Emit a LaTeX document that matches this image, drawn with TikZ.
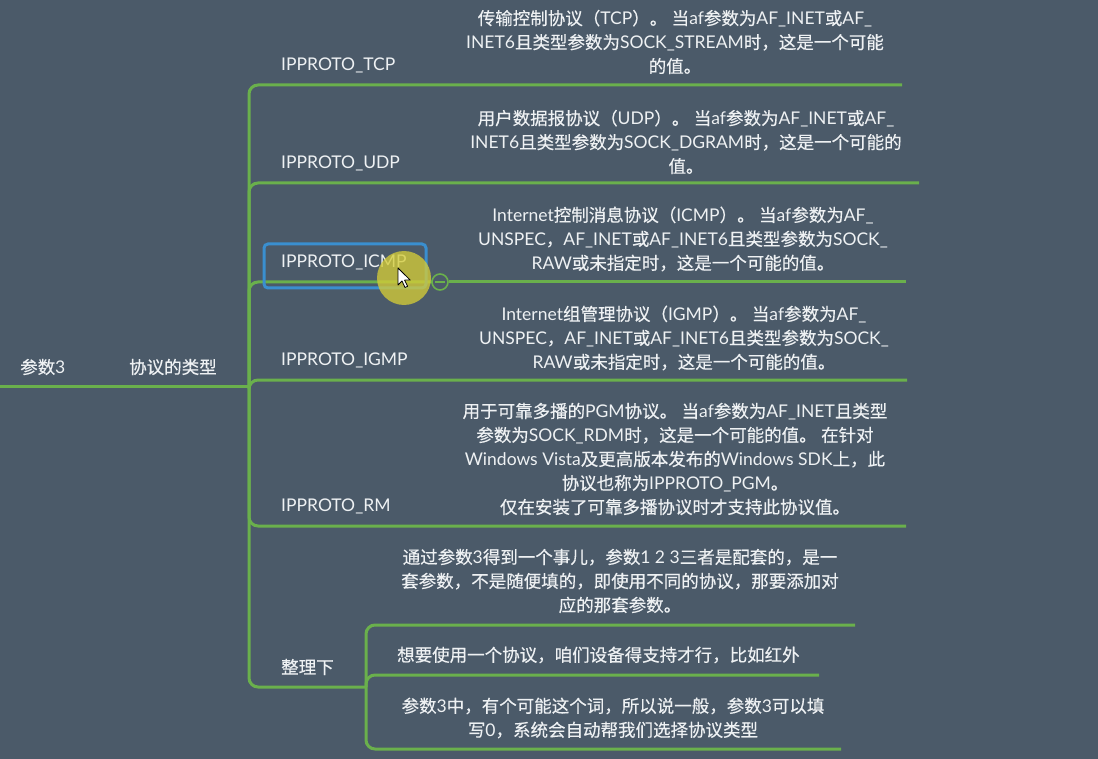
\documentclass[tikz,border=0pt]{standalone}
\usepackage{fontspec}
\setmainfont{Lato}
\newfontfamily\cjkf{Noto Sans CJK SC}[FakeBold=0.4]
\XeTeXinterchartokenstate=1
\newXeTeXintercharclass\CJKcls
\newcount\cjkcnt
\def\setcjkrange#1#2{\cjkcnt=#1\relax\loop\XeTeXcharclass\cjkcnt=\CJKcls\relax\ifnum\cjkcnt<#2\relax\advance\cjkcnt by 1\relax\repeat}
\setcjkrange{"3000}{"303F}
\setcjkrange{"4E00}{"9FFF}
\setcjkrange{"FF00}{"FFEF}
\XeTeXinterchartoks 0 \CJKcls = {\cjkf}
\XeTeXinterchartoks 4095 \CJKcls = {\cjkf}
\XeTeXinterchartoks \CJKcls 0 = {\rmfamily}
\XeTeXinterchartoks \CJKcls 4095 = {\rmfamily}
\newcommand\mmfs{\fontsize{17.5}{24}\selectfont}
\usetikzlibrary{calc}
\definecolor{bg}{HTML}{4B5A69}
\definecolor{lnk}{HTML}{6AB04C}
\definecolor{txt}{HTML}{EEF1F3}
\definecolor{selc}{HTML}{3A8FCF}
\definecolor{hlc}{HTML}{D4CC38}
\tikzset{
  conn/.style={draw=lnk, line width=3pt, rounded corners=9pt},
  lbl/.style={anchor=west, inner sep=0pt, text=txt, font=\mmfs},
  desc/.style={align=center, inner sep=0pt, text=txt, font=\mmfs},
  foldbtn/.style={circle, draw=lnk, line width=1.6pt, minimum size=16pt, inner sep=0pt},
}
\begin{document}
\begin{tikzpicture}[x=1pt,y=-1pt]
\fill[bg] (0,0) rectangle (1098,759);
\useasboundingbox (0,0) rectangle (1098,759);
% hubs and ends
\coordinate (root0) at (0,386);
\coordinate (hub) at (249,386);
\coordinate (tcpE) at (902,85);
\coordinate (udpE) at (919,183);
\coordinate (icmpL) at (432,282);
\coordinate (icmpE) at (906,282);
\coordinate (igmpE) at (907,380);
\coordinate (rmE) at (906,526);
\coordinate (sumL) at (366,687);
\coordinate (s1E) at (855,625);
\coordinate (s2E) at (819,675);
\coordinate (s3E) at (841,749);
% connectors
\draw[conn] (root0) -- (hub);
\draw[conn] (hub) |- (tcpE);
\draw[conn] (hub) |- (udpE);
\draw[conn] (hub) |- (icmpL);
\draw[conn] (hub) |- (igmpE);
\draw[conn] (hub) |- (rmE);
\draw[conn] (hub) |- (sumL);
\draw[conn] (sumL) |- (s1E);
\draw[conn] (sumL) |- (s2E);
\draw[conn] (sumL) |- (s3E);
\node[foldbtn] (fold) at (440,282) {};
\draw[lnk, line width=1.4pt] ($(fold.center)+(-5,0)$) -- ($(fold.center)+(5,0)$);
\draw[conn] (fold.east) -- (icmpE);
% labels
\node[lbl] (p3) at (20,367) {参数3};
\node[lbl] (type) at (129,367) {协议的类型};
\node[lbl] (tcp) at (281,65) {IPPROTO\_TCP};
\node[lbl] (udp) at (281,163) {IPPROTO\_UDP};
\node[lbl] (icmp) at (281,262) {IPPROTO\_ICMP};
\node[lbl] (igmp) at (281,360) {IPPROTO\_IGMP};
\node[lbl] (rm) at (281,506) {IPPROTO\_RM};
\node[lbl] (sum) at (281,667) {整理下};
\node[desc] (tcpd) at (675,42) {传输控制协议（TCP）。 当af参数为AF\_INET或AF\_\\INET6且类型参数为SOCK\_STREAM时，这是一个可能\\的值。};
\node[desc] (udpd) at (686,142) {用户数据报协议（UDP）。 当af参数为AF\_INET或AF\_\\INET6且类型参数为SOCK\_DGRAM时，这是一个可能的\\值。};
\node[desc] (icmpd) at (683,239) {Internet控制消息协议（ICMP）。 当af参数为AF\_\\UNSPEC，AF\_INET或AF\_INET6且类型参数为SOCK\_\\RAW或未指定时，这是一个可能的值。};
\node[desc] (igmpd) at (684,338) {Internet组管理协议（IGMP）。 当af参数为AF\_\\UNSPEC，AF\_INET或AF\_INET6且类型参数为SOCK\_\\RAW或未指定时，这是一个可能的值。};
\node[desc] (rmd) at (675,459) {用于可靠多播的PGM协议。 当af参数为AF\_INET且类型\\参数为SOCK\_RDM时，这是一个可能的值。 在针对\\Windows Vista及更高版本发布的Windows SDK上，此\\协议也称为IPPROTO\_PGM。\\仅在安装了可靠多播协议时才支持此协议值。};
\node[desc] (s1) at (620,581) {通过参数3得到一个事儿，参数1 2 3三者是配套的，是一\\套参数，不是随便填的，即使用不同的协议，那要添加对\\应的那套参数。};
\node[lbl] (s2) at (397,655) {想要使用一个协议，咱们设备得支持才行，比如红外};
\node[desc] (s3) at (613,718) {参数3中，有个可能这个词，所以说一般，参数3可以填\\写0，系统会自动帮我们选择协议类型};
% selection highlight and pointer
\draw[selc, line width=3pt, rounded corners=4pt] (264,244) rectangle (426,288);
\fill[hlc, opacity=0.78] (404,278) circle (27);
\coordinate (tip) at (398,268);
\draw[black, line width=0.8pt, fill=white, line join=round]
  (tip) -- ++(0,17) -- ++(4,-4) -- ++(3,6.5) -- ++(2.6,-1.2) -- ++(-3,-6.2) -- ++(5.6,0) -- cycle;
\end{tikzpicture}
\end{document}
